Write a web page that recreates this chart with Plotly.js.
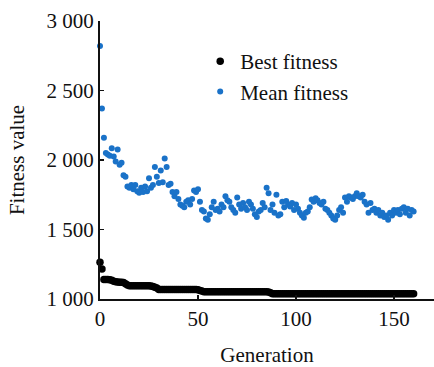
<!DOCTYPE html>
<html>
<head>
<meta charset="utf-8">
<script src="https://cdn.plot.ly/plotly-3.0.1.min.js"></script>
<style>html,body{margin:0;padding:0;background:#fff;}#chart{width:434px;height:367px;}</style>
</head>
<body>
<div id="chart"></div>
<script>
const generations = [
  0,1,2,3,4,5,6,7,8,9,10,11,12,13,14,15,16,17,18,19,20,21,22,23,24,25,26,27,28,29,
  30,31,32,33,34,35,36,37,38,39,40,41,42,43,44,45,46,47,48,49,50,51,52,53,54,55,56,57,58,59,
  60,61,62,63,64,65,66,67,68,69,70,71,72,73,74,75,76,77,78,79,80,81,82,83,84,85,86,87,88,89,
  90,91,92,93,94,95,96,97,98,99,100,101,102,103,104,105,106,107,108,109,110,111,112,113,114,115,116,117,118,119,
  120,121,122,123,124,125,126,127,128,129,130,131,132,133,134,135,136,137,138,139,140,141,142,143,144,145,146,147,148,149,
  150,151,152,153,154,155,156,157,158,159,160
];
const bestFitness = [
  1265,1215,1140,1140,1140,1138,1135,1128,1125,1122,1120,1120,1118,1110,1100,1095,1095,1095,1095,1095,
  1095,1095,1095,1095,1095,1095,1093,1090,1085,1080,1068,1068,1068,1068,1068,1068,1068,1068,1068,1068,
  1068,1068,1068,1068,1068,1068,1068,1068,1068,1068,1066,1062,1058,1053,1053,1053,1053,1053,1053,1053,
  1053,1053,1053,1053,1053,1053,1053,1053,1053,1053,1053,1053,1053,1053,1053,1053,1053,1053,1053,1053,
  1053,1053,1053,1053,1053,1053,1050,1045,1038,1038,1038,1038,1038,1038,1038,1038,1038,1038,1038,1038,
  1038,1038,1038,1038,1038,1038,1038,1038,1038,1038,1038,1038,1038,1038,1038,1038,1038,1038,1038,1038,
  1038,1038,1038,1038,1038,1038,1038,1038,1038,1038,1038,1038,1038,1038,1038,1038,1038,1038,1038,1038,
  1038,1038,1038,1038,1038,1038,1038,1038,1038,1038,1038,1038,1038,1038,1038,1038,1038,1038,1038,1038,
  1038
];
const meanFitness = [
  2820,2370,2160,2050,2040,2030,2085,2025,1990,2075,1965,1980,1890,1880,1810,1800,1820,1790,1820,1775,
  1765,1800,1770,1810,1775,1868,1800,1820,1950,1880,1835,1925,1840,2010,1950,1820,1830,1770,1740,1770,
  1720,1680,1670,1660,1700,1710,1680,1720,1780,1770,1790,1700,1640,1630,1580,1570,1610,1660,1700,1640,
  1650,1630,1680,1660,1740,1710,1700,1660,1640,1620,1730,1680,1650,1690,1660,1640,1700,1680,1650,1610,
  1590,1630,1640,1690,1660,1800,1760,1640,1680,1620,1750,1600,1610,1700,1660,1705,1680,1665,1690,1640,
  1680,1650,1620,1600,1585,1620,1630,1660,1715,1700,1725,1710,1690,1680,1700,1650,1640,1620,1600,1580,
  1570,1600,1640,1660,1620,1730,1700,1740,1730,1720,1740,1760,1740,1730,1750,1700,1680,1620,1690,1640,
  1650,1620,1640,1600,1620,1590,1600,1570,1620,1600,1640,1620,1640,1610,1650,1660,1620,1650,1600,1640,
  1630
];
const seriesNames = ["Best fitness", "Mean fitness"];
const xTitle = "Generation";
const yTitle = "Fitness value";

const serif = "Liberation Serif, Times New Roman, serif";
const txt = {family: serif, size: 21, color: "#111"};
const traces = [
  {x: generations, y: bestFitness, name: seriesNames[0], type: "scatter", mode: "markers",
   legendgroup: "a", cliponaxis: false,
   marker: {color: "#000000", size: 7.5}},
  {x: generations, y: meanFitness, name: seriesNames[1], type: "scatter", mode: "markers",
   legendgroup: "b", cliponaxis: false,
   marker: {color: "#1a72c8", size: 6}}
];
const layout = {
  width: 434, height: 367,
  margin: {l: 100, r: 0, t: 21, b: 68},
  paper_bgcolor: "#fff", plot_bgcolor: "#fff",
  font: txt,
  separators: ". ",
  showlegend: true,
  legend: {x: 0.3, y: 0.928, xanchor: "left", yanchor: "top", bgcolor: "rgba(0,0,0,0)",
           traceorder: "grouped", tracegroupgap: 0, font: txt},
  xaxis: {range: [0, 170.4], tickvals: [0, 50, 100, 150], showgrid: false, zeroline: false,
          showline: true, linecolor: "#111", linewidth: 2, ticks: "inside", ticklen: 4, tickwidth: 1.5, tickcolor: "#111",
          tickfont: txt, title: {text: xTitle, font: txt}},
  yaxis: {range: [1000, 3000], tickvals: [1000, 1500, 2000, 2500, 3000], separatethousands: true,
          showgrid: false, zeroline: false, automargin: true,
          showline: true, linecolor: "#111", linewidth: 2, ticks: "inside", ticklen: 4, tickwidth: 1.5, tickcolor: "#111",
          tickfont: txt, title: {text: yTitle, font: txt, standoff: 16}}
};
Plotly.newPlot("chart", traces, layout, {displayModeBar: false, staticPlot: true});
</script>
</body>
</html>
